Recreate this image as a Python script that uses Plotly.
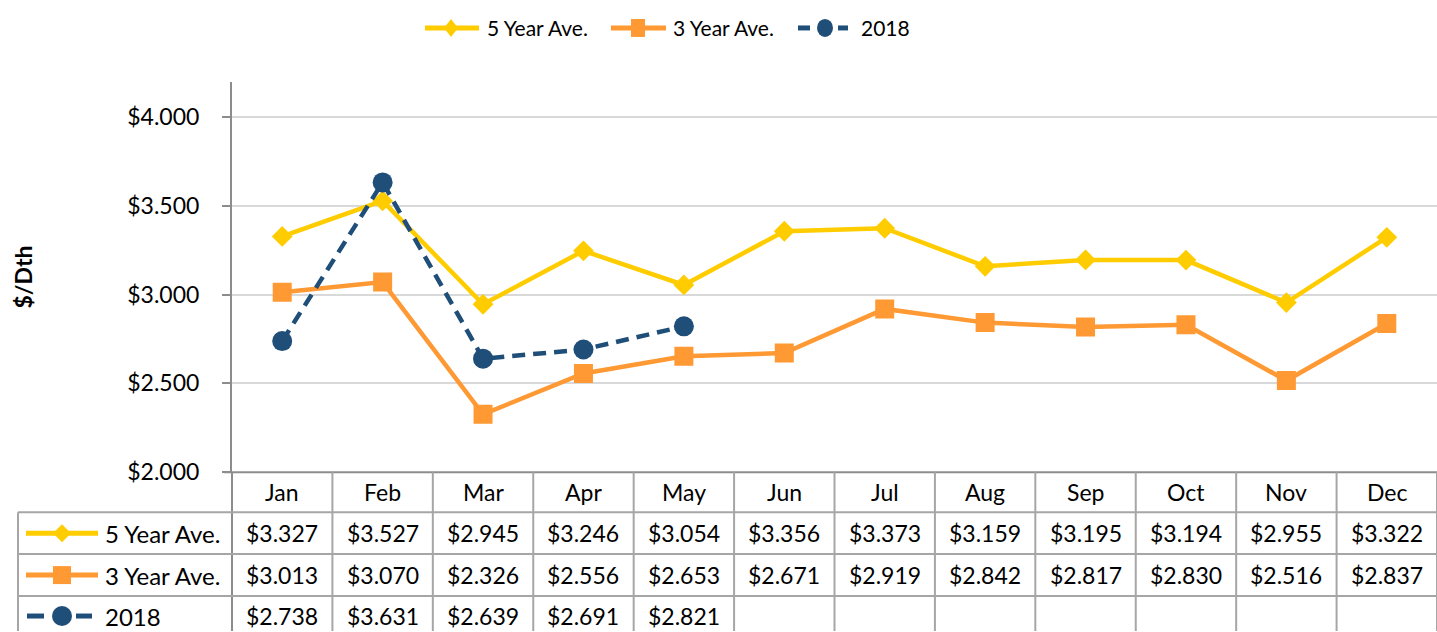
import plotly.graph_objects as go

months = ["Jan", "Feb", "Mar", "Apr", "May", "Jun", "Jul", "Aug", "Sep", "Oct", "Nov", "Dec"]
five_year = [3.327, 3.527, 2.945, 3.246, 3.054, 3.356, 3.373, 3.159, 3.195, 3.194, 2.955, 3.322]
three_year = [3.013, 3.070, 2.326, 2.556, 2.653, 2.671, 2.919, 2.842, 2.817, 2.830, 2.516, 2.837]
y2018 = [2.738, 3.631, 2.639, 2.691, 2.821]
y_ticks = [2.0, 2.5, 3.0, 3.5, 4.0]
series_names = ["5 Year Ave.", "3 Year Ave.", "2018"]

W, H = 1437, 632          # reference coordinate space
FIG_H = 644               # rendered height (screenshot is rescaled to 632)
def px(x): return x / W
def py(y): return 1 - y / H

YELLOW = "#FFCC00"
ORANGE = "#FF9933"
NAVY = "#1F4E79"
FONT = "Lato"
FS = 23
TXT = "#000000"
TBL = "#A6A6A6"
AX = "#8C8C8C"

xi = list(range(len(months)))

fig = go.Figure()
fig.add_trace(go.Scatter(x=xi, y=five_year, name=series_names[0], mode="lines+markers",
                         line=dict(color=YELLOW, width=4.5),
                         marker=dict(symbol="diamond", size=16, color=YELLOW)))
fig.add_trace(go.Scatter(x=xi, y=three_year, name=series_names[1], mode="lines+markers",
                         line=dict(color=ORANGE, width=4.5),
                         marker=dict(symbol="square", size=19, color=ORANGE)))
fig.add_trace(go.Scatter(x=xi[:len(y2018)], y=y2018, name=series_names[2], mode="lines+markers",
                         line=dict(color=NAVY, width=4.5, dash="13px,8px"),
                         marker=dict(symbol="circle", size=20, color=NAVY)))

x_left, x_right = 232, 1437
y_top, y_bot = 82, 473
ymin = 2.0
ymax = 2.0 + (y_bot - y_top) / 178.0

fig.update_layout(
    width=W, height=FIG_H,
    margin=dict(l=0, r=0, t=0, b=0),
    paper_bgcolor="white", plot_bgcolor="white",
    font=dict(family=FONT, size=FS, color=TXT),
    showlegend=False,
    xaxis=dict(domain=[px(x_left), px(x_right)], range=[-0.5, 11.5],
               showgrid=False, zeroline=False, showticklabels=False,
               showline=False, fixedrange=True),
    yaxis=dict(domain=[py(y_bot), py(y_top)], range=[ymin, ymax],
               tickvals=y_ticks, ticktext=[f"${v:.3f}" for v in y_ticks],
               showgrid=True, gridcolor="#D9D9D9", gridwidth=1.5,
               zeroline=False, showline=True, linecolor=AX, linewidth=2,
               ticks="outside", ticklen=8, tickcolor=AX, tickwidth=2,
               tickfont=dict(family=FONT, size=FS, color=TXT), ticklabelstandoff=18),
)

shapes = []
shapes.append(dict(type="line", xref="paper", yref="paper", x0=px(x_left), x1=px(x_left),
                   y0=py(y_bot), y1=0, line=dict(color=AX, width=2)))
shapes.append(dict(type="line", xref="paper", yref="paper", x0=px(224), x1=px(x_right),
                   y0=py(y_bot), y1=py(y_bot), line=dict(color=AX, width=2)))
for i in range(1, len(months) + 1):
    shapes.append(dict(type="line", xref="x", yref="paper", x0=i - 0.5, x1=i - 0.5,
                       y0=py(y_bot), y1=0, line=dict(color=TBL, width=2)))
row_lines = [513, 555, 597]
for yy in row_lines:
    shapes.append(dict(type="line", xref="paper", yref="paper", x0=px(18), x1=px(x_right),
                       y0=py(yy), y1=py(yy), line=dict(color=TBL, width=2)))
shapes.append(dict(type="line", xref="paper", yref="paper", x0=px(18), x1=px(18),
                   y0=py(513), y1=0, line=dict(color=TBL, width=2)))

def hline(a, b, yc, color, w=5):
    shapes.append(dict(type="line", xref="paper", yref="paper", x0=px(a), x1=px(b),
                       y0=py(yc), y1=py(yc), line=dict(color=color, width=w)))

def diamond(cx, cy, hw, hh, color):
    shapes.append(dict(type="path", xref="paper", yref="paper",
                       path=f"M {px(cx-hw)} {py(cy)} L {px(cx)} {py(cy-hh)} L {px(cx+hw)} {py(cy)} L {px(cx)} {py(cy+hh)} Z",
                       fillcolor=color, line=dict(width=0)))

def square(cx, cy, hw, hh, color):
    shapes.append(dict(type="rect", xref="paper", yref="paper", x0=px(cx-hw), x1=px(cx+hw),
                       y0=py(cy+hh), y1=py(cy-hh), fillcolor=color, line=dict(width=0)))

def circle(cx, cy, rw, rh, color):
    shapes.append(dict(type="circle", xref="paper", yref="paper", x0=px(cx-rw), x1=px(cx+rw),
                       y0=py(cy+rh), y1=py(cy-rh), fillcolor=color, line=dict(width=0)))

# keys in the data table
row_centers = [534, 576, 617]
hline(26, 98, row_centers[0], YELLOW); diamond(62, row_centers[0], 9, 9, YELLOW)
hline(26, 98, row_centers[1], ORANGE); square(62, row_centers[1], 9, 9, ORANGE)
hline(27, 44, row_centers[2], NAVY); hline(76, 92, row_centers[2], NAVY); circle(62, row_centers[2], 10, 10, NAVY)

# top legend keys
LY = 28
hline(425, 479, LY, YELLOW); diamond(451, LY, 7, 9, YELLOW)
hline(611, 666, LY, ORANGE); square(638, LY, 7, 9, ORANGE)
hline(798, 810, LY, NAVY); hline(838, 848, LY, NAVY); circle(825, LY, 8, 9, NAVY)

fig.update_layout(shapes=shapes)

ann = []
for i, m in enumerate(months):
    ann.append(dict(x=i, y=py(493), xref="x", yref="paper", text=m, showarrow=False,
                    xanchor="center", yanchor="middle", font=dict(family=FONT, size=FS, color=TXT)))
series = list(zip(series_names, [five_year, three_year, y2018]))
for (name, vals), yc in zip(series, row_centers):
    ann.append(dict(x=px(103), y=py(yc), xref="paper", yref="paper", text=name, showarrow=False,
                    xanchor="left", yanchor="middle", font=dict(family=FONT, size=24, color=TXT)))
    for i, v in enumerate(vals):
        ann.append(dict(x=i, y=py(yc), xref="x", yref="paper", text=f"${v:.3f}", showarrow=False,
                        xanchor="center", yanchor="middle", font=dict(family=FONT, size=FS, color=TXT)))
for name, lx in zip(series_names, [485, 671, 859]):
    ann.append(dict(x=px(lx), y=py(LY), xref="paper", yref="paper", text=name, showarrow=False,
                    xanchor="left", yanchor="middle", font=dict(family=FONT, size=21, color=TXT)))
ann.append(dict(x=px(23), y=py(278), xref="paper", yref="paper", text="<b>$/Dth</b>", textangle=-90,
                showarrow=False, xanchor="center", yanchor="middle",
                font=dict(family=FONT, size=23, color=TXT)))
fig.update_layout(annotations=ann)

post = ("var h=document.documentElement,b=document.body;"
        "h.style.margin='0';h.style.padding='0';h.style.overflow='hidden';"
        "b.style.margin='0';b.style.padding='0';b.style.overflow='hidden';")
fig.write_html("out.html", post_script=post, config={"displayModeBar": False})
